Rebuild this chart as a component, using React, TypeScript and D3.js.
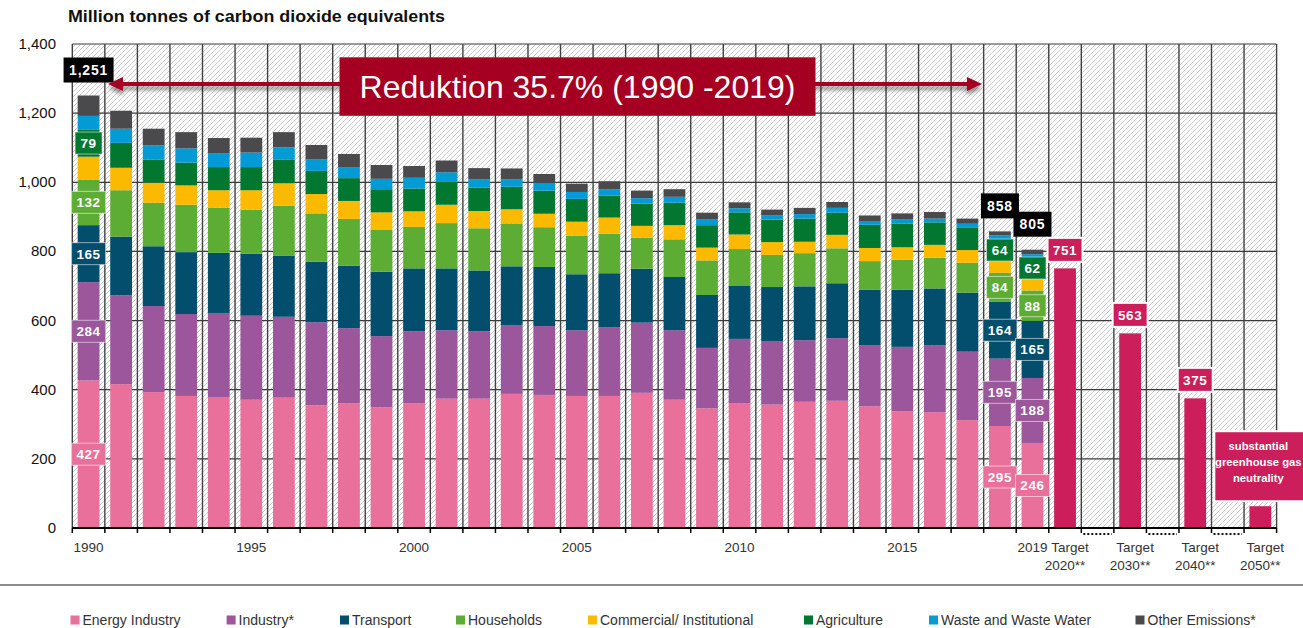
import React from "react";
import * as d3 from "d3";

const years = ["1990","1991","1992","1993","1994","1995","1996","1997","1998","1999","2000","2001","2002","2003","2004","2005","2006","2007","2008","2009","2010","2011","2012","2013","2014","2015","2016","2017","2018","2019"];

const energy = [427,416,393,382,379,371,377,355,361,349,361,374,374,388,385,382,382,391,371,346,360,357,365,368,352,338,335,312,295,246];
const industry = [284,257,249,237,243,243,234,240,217,206,208,198,195,199,199,190,199,203,201,175,187,184,178,181,177,186,193,198,195,188];
const transport = [165,170,173,179,174,179,176,175,181,186,182,179,176,170,171,162,156,156,154,153,153,156,156,159,160,165,165,171,164,165];
const households = [132,134,126,137,131,128,145,140,135,121,120,131,122,124,115,112,114,90,109,100,107,93,96,101,83,87,89,86,84,88];
const commercial = [66,65,58,56,50,56,65,56,52,51,45,53,50,41,39,40,47,34,41,37,42,37,33,39,38,36,37,37,34,34];
const agriculture = [79,72,67,66,67,67,68,67,66,67,66,66,68,65,67,66,63,64,65,65,64,65,67,64,67,68,65,64,64,62];
const waste = [39,41,41,41,39,42,36,34,32,30,31,28,24,22,23,20,19,16,17,16,12,13,13,14,11,12,11,12,10,9];
const other = [59,52,48,47,45,43,44,41,38,40,34,34,32,31,25,24,23,22,22,20,17,16,18,17,16,18,19,15,12,13];

const seriesNames = ["Energy Industry","Industry*","Transport","Households","Commercial/ Institutional","Agriculture","Waste and Waste Water","Other Emissions*"];
const seriesColors = ["#E8709A","#9B569C","#024E6C","#5DAD35","#FBBA00","#01772F","#029BD5","#4A4A4C"];
const seriesData = [energy, industry, transport, households, commercial, agriculture, waste, other];

const targetCats = ["T2020","gap1","T2030","gap2","T2040","gap3","T2050"];
const targetKeys = ["T2020","T2030","T2040","T2050"];
const targetValues = [751, 563, 375, 63];
const targetLine1 = ["Target","Target","Target","Target"];
const targetLine2 = ["2020**","2030**","2040**","2050**"];
const gapKeys = ["gap1","gap2","gap3"];

const yTicks = [0,200,400,600,800,1000,1200,1400];
const xTickYears = ["1990","1995","2000","2005","2010","2015","2019"];
const labeledYears = ["1990","2018","2019"];
const labeledSeries = [0,1,2,3,5];
const totalYears = ["1990","2018","2019"];
const neutralityText = ["substantial","greenhouse gas","neutrality"];
const annotationText = "Reduktion 35.7% (1990 -2019)";
const titleText = "Million tonnes of carbon dioxide equivalents";

const FONT = "'Liberation Sans', Arial, Helvetica, sans-serif";
const legendX = [70.5, 226.6, 340, 456, 588, 804, 929, 1135.5];

export default function App() {
  const W = 1303, H = 628;
  const left = 72.3, right = 1276.6, top = 44, bottom = 528;
  const cats = [...years, ...targetCats];
  const x = d3.scaleBand<string>().domain(cats).range([left, right]).paddingInner(0.33).paddingOuter(0.165);
  const y = d3.scaleLinear().domain([0, 1400]).range([bottom, top]);
  const step = x.step();
  const bw = x.bandwidth();

  const rows = years.map((yr, i) => {
    const r: any = { year: yr };
    seriesNames.forEach((s, k) => { r[s] = seriesData[k][i]; });
    return r;
  });
  const stacked = d3.stack<any>().keys(seriesNames)(rows);
  const totals = years.map((_, i) => d3.sum(seriesData, (s) => s[i]));
  const fmt = d3.format(",");

  const boundaries = d3.range(cats.length + 1).map((i) => left + i * step);
  const arrowY = 84;
  const crimson = "#A50021";
  const pink = "#CC1E5B";

  return (
    <svg width={W} height={H} style={{ position: "absolute", left: 0, top: 0, background: "#fff" }} fontFamily={FONT}>
      <defs>
        <pattern id="hatch" patternUnits="userSpaceOnUse" width="5" height="5">
          <rect width="5" height="5" fill="#fff" />
          <path d="M0,5 L5,0 M-1,1 L1,-1 M4,6 L6,4" stroke="#c6c6c6" strokeWidth="0.9" />
        </pattern>
        <filter id="shadow" x="-5%" y="-50%" width="110%" height="300%">
          <feGaussianBlur in="SourceAlpha" stdDeviation="2" />
          <feOffset dx="0" dy="4" result="b" />
          <feComponentTransfer><feFuncA type="linear" slope="0.45" /></feComponentTransfer>
          <feMerge><feMergeNode /><feMergeNode in="SourceGraphic" /></feMerge>
        </filter>
      </defs>
      <rect width={W} height={H} fill="#fff" />
      <text x={68} y={22} fontSize={16} fontWeight="bold" fill="#111" textLength={377} lengthAdjust="spacingAndGlyphs">{titleText}</text>

      <rect x={left} y={top} width={right - left} height={bottom - top} fill="url(#hatch)" />
      {yTicks.map((t) => (
        <line key={"h" + t} x1={left} x2={right} y1={y(t)} y2={y(t)} stroke="#3a3a3a" strokeWidth={1.2} />
      ))}
      {boundaries.map((b, i) => (
        <line key={"v" + i} x1={b} x2={b} y1={top} y2={bottom} stroke="#404040" strokeWidth={1.4} />
      ))}

      {yTicks.map((t) => (
        <text key={"yl" + t} x={56} y={y(t) + 5} fontSize={15} textAnchor="end" fill="#111">{fmt(t)}</text>
      ))}

      {stacked.map((layer, k) => (
        <g key={"s" + k} fill={seriesColors[k]}>
          {layer.map((d, i) => (
            <rect key={i} x={x(years[i])} y={y(d[1])} width={bw} height={y(d[0]) - y(d[1])} />
          ))}
        </g>
      ))}

      {targetKeys.map((k, i) => (
        <rect key={k} x={x(k)} y={y(targetValues[i])} width={bw} height={bottom - y(targetValues[i])} fill={pink} />
      ))}

      <line x1={left} x2={right} y1={bottom} y2={bottom} stroke="#000" strokeWidth={2.2} />
      {boundaries.map((b, i) => (
        <line key={"t" + i} x1={b} x2={b} y1={bottom} y2={bottom + 5} stroke="#000" strokeWidth={1.5} />
      ))}
      {gapKeys.map((g) => (
        <line key={g} x1={(x(g) as number) - (step - bw) / 2 + 2} x2={(x(g) as number) + bw + (step - bw) / 2 - 2} y1={bottom + 6} y2={bottom + 6} stroke="#111" strokeWidth={2} strokeDasharray="2,2" />
      ))}
      {xTickYears.map((yr) => (
        <text key={"xl" + yr} x={(x(yr) as number) + bw / 2} y={552} fontSize={13.5} textAnchor="middle" fill="#333">{yr}</text>
      ))}
      {targetKeys.map((k, i) => (
        <g key={"tl" + k} fontSize={13.5} fill="#333" textAnchor="middle">
          <text x={(x(k) as number) + bw / 2 + 5} y={552}>{targetLine1[i]}</text>
          <text x={(x(k) as number) + bw / 2} y={570}>{targetLine2[i]}</text>
        </g>
      ))}

      {labeledYears.map((yr) => {
        const i = years.indexOf(yr);
        return labeledSeries.map((k) => {
          const d = stacked[k][i];
          const v = seriesData[k][i];
          const txt = String(v);
          const w = txt.length === 2 ? 27 : 34;
          const cx = (x(yr) as number) + bw / 2;
          const cy = y((d[0] + d[1]) / 2);
          return (
            <g key={"lab" + yr + k}>
              <rect x={cx - w / 2} y={cy - 11} width={w} height={22} fill={seriesColors[k]} stroke="rgba(255,255,255,0.55)" strokeWidth={1} />
              <text x={cx} y={cy + 5} fontSize={13.5} fontWeight="bold" fill="#fff" textAnchor="middle" letterSpacing={0.6}>{txt}</text>
            </g>
          );
        });
      })}

      {totalYears.map((yr) => {
        const i = years.indexOf(yr);
        const txt = fmt(totals[i]);
        const w = txt.length > 3 ? 50 : 38;
        const cx = (x(yr) as number) + bw / 2;
        const bt = y(totals[i]) - 13;
        return (
          <g key={"tot" + yr}>
            <rect x={cx - w / 2} y={bt - 25} width={w} height={25} fill="#000" />
            <text x={cx} y={bt - 7.5} fontSize={14} fontWeight="bold" fill="#fff" textAnchor="middle" letterSpacing={0.8}>{txt}</text>
          </g>
        );
      })}

      {targetKeys.slice(0, 3).map((k, i) => {
        const cx = (x(k) as number) + bw / 2;
        const bt = y(targetValues[i]) - 6.5;
        return (
          <g key={"tv" + k}>
            <rect x={cx - 17.5} y={bt - 24} width={35} height={24} fill={pink} stroke="#fff" strokeWidth={2} />
            <text x={cx} y={bt - 7} fontSize={13.5} fontWeight="bold" fill="#fff" textAnchor="middle" letterSpacing={0.6}>{targetValues[i]}</text>
          </g>
        );
      })}
      {(() => {
        const k = "T2050";
        const cx = (x(k) as number) + bw / 2;
        const bt = y(targetValues[3]) - 5;
        return (
          <g>
            <rect x={cx - 46} y={bt - 70} width={92} height={70} fill={pink} stroke="#fff" strokeWidth={2} />
            {neutralityText.map((t, j) => (
              <text key={t} x={cx - 2} y={bt - 51 + j * 16} fontSize={11.3} fontWeight="bold" fill="#fff" textAnchor="middle">{t}</text>
            ))}
          </g>
        );
      })()}

      <g filter="url(#shadow)">
        <line x1={120} x2={968} y1={arrowY} y2={arrowY} stroke={crimson} strokeWidth={4} />
        <polygon points={`108,${arrowY} 123,${arrowY - 7} 123,${arrowY + 7}`} fill={crimson} />
        <polygon points={`982,${arrowY} 967,${arrowY - 7} 967,${arrowY + 7}`} fill={crimson} />
      </g>
      <rect x={339.5} y={57.3} width={476} height={58.5} fill={crimson} />
      <text x={577.5} y={98} fontSize={32} fill="#fff" textAnchor="middle">{annotationText}</text>

      <line x1={0} x2={W} y1={585} y2={585} stroke="#666" strokeWidth={1.5} />

      {seriesNames.map((s, k) => (
        <g key={"lg" + k}>
          <rect x={legendX[k]} y={615.5} width={9} height={9} fill={seriesColors[k]} />
          <text x={legendX[k] + 12} y={625} fontSize={14} fill="#333">{s}</text>
        </g>
      ))}
    </svg>
  );
}
